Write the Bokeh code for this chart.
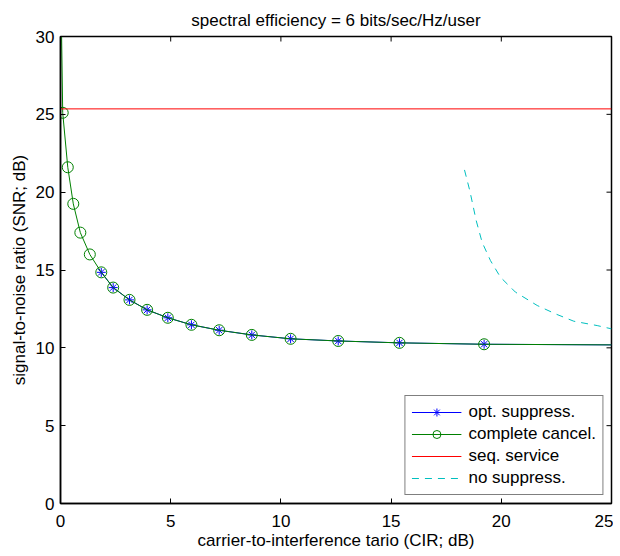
import math
from bokeh.plotting import figure
from bokeh.models import Range1d, FixedTicker, Legend, LegendItem
from bokeh.embed import file_html
from bokeh.resources import INLINE

# ---- data ----
x_ticks = [0, 5, 10, 15, 20, 25]
y_ticks = [0, 5, 10, 15, 20, 25, 30]
x_max = 25
y_max = 30

# complete cancellation (green, circles)
cc_line_x = [0.04, 0.1, 0.33, 0.58, 0.9, 1.33, 1.85, 2.39, 3.13, 3.93, 4.87, 5.94, 7.2, 8.68, 10.44, 12.6, 15.38, 19.22, 25.0]
cc_line_y = [31.0, 25.1, 21.6, 19.25, 17.4, 16.0, 14.85, 13.87, 13.08, 12.44, 11.93, 11.48, 11.13, 10.83, 10.58, 10.44, 10.32, 10.23, 10.19]
cc_mark_x = [0.1, 0.33, 0.58, 0.9, 1.33, 1.85, 2.39, 3.13, 3.93, 4.87, 5.94, 7.2, 8.68, 10.44, 12.6, 15.38, 19.22]
cc_mark_y = [25.1, 21.6, 19.25, 17.4, 16.0, 14.85, 13.87, 13.08, 12.44, 11.93, 11.48, 11.13, 10.83, 10.58, 10.44, 10.32, 10.23]

# optimum suppression (blue, stars)
os_line_x = [1.85, 2.39, 3.13, 3.93, 4.87, 5.94, 7.2, 8.68, 10.44, 12.6, 15.38, 19.22, 25.0]
os_line_y = [14.85, 13.87, 13.08, 12.44, 11.93, 11.48, 11.13, 10.83, 10.58, 10.44, 10.32, 10.23, 10.19]
os_mark_x = [1.85, 2.39, 3.13, 3.93, 4.87, 5.94, 7.2, 8.68, 10.44, 12.6, 15.38, 19.22]
os_mark_y = [14.85, 13.87, 13.08, 12.44, 11.93, 11.48, 11.13, 10.83, 10.58, 10.44, 10.32, 10.23]

# sequential service (red)
seq_x = [0, 25]
seq_y = [25.35, 25.35]

# no suppression (cyan dashed)
ns_x = [18.33, 18.57, 18.86, 19.13, 19.51, 19.96, 20.64, 21.63, 22.46, 23.29, 24.35, 25.0]
ns_y = [21.43, 20.1, 18.18, 16.78, 15.6, 14.54, 13.58, 12.72, 12.18, 11.71, 11.43, 11.22]

FONT = "Liberation Sans"
FS = "17px"

p = figure(frame_width=551, frame_height=467,
           x_range=Range1d(0, x_max), y_range=Range1d(0, y_max),
           output_backend="svg", toolbar_location=None,
           min_border_left=60, min_border_top=36, min_border_right=2, min_border_bottom=10,
           title="spectral efficiency = 6 bits/sec/Hz/user")

p.title.text_font = FONT
p.title.text_font_size = FS
p.title.text_font_style = "normal"
p.title.align = "center"
p.title.text_color = "black"
p.title.standoff = 13

p.xgrid.visible = False
p.ygrid.visible = False
p.outline_line_color = "black"
p.outline_line_width = 1.5
p.background_fill_color = "white"
p.border_fill_color = "white"

for ax, ticks in ((p.xaxis[0], x_ticks), (p.yaxis[0], y_ticks)):
    ax.ticker = FixedTicker(ticks=ticks)
    ax.major_tick_in = 5
    ax.major_tick_out = 0
    ax.minor_tick_line_color = None
    ax.axis_line_color = "black"
    ax.axis_line_width = 1.5
    ax.major_tick_line_color = "black"
    ax.major_label_text_font = FONT
    ax.major_label_text_font_size = FS
    ax.major_label_text_color = "black"
    ax.axis_label_text_font = FONT
    ax.axis_label_text_font_size = FS
    ax.axis_label_text_font_style = "normal"
    ax.axis_label_text_color = "black"

p.xaxis[0].axis_label = "carrier-to-interference tario (CIR; dB)"
p.yaxis[0].axis_label = "signal-to-noise ratio (SNR; dB)"
p.xaxis[0].major_label_standoff = 11
p.xaxis[0].axis_label_standoff = 1
p.yaxis[0].major_label_standoff = 6
p.yaxis[0].axis_label_standoff = 4

# inward tick marks on the top and right edges of the box (clipped to the frame)
p.scatter(x_ticks, [y_max] * len(x_ticks), marker="dash", size=10, angle=math.pi / 2,
          line_color="black", line_width=1)
p.scatter([x_max] * len(y_ticks), y_ticks, marker="dash", size=10,
          line_color="black", line_width=1)

BLUE = "#0000ff"
GREEN = "#008000"
RED = "#ff0000"
CYAN = "#00bfbf"

r_os_line = p.line(os_line_x, os_line_y, line_color=BLUE, line_width=1)
r_os_mark = p.scatter(os_mark_x, os_mark_y, marker="asterisk", size=9, line_color=BLUE, line_width=1)
r_cc_line = p.line(cc_line_x, cc_line_y, line_color=GREEN, line_width=1)
r_cc_mark = p.scatter(cc_mark_x, cc_mark_y, marker="circle", size=11, line_color=GREEN,
                      fill_color=None, line_width=1)
r_seq = p.line(seq_x, seq_y, line_color=RED, line_width=1)
r_ns = p.line(ns_x, ns_y, line_color=CYAN, line_width=1, line_dash="7 6")

legend = Legend(items=[
    LegendItem(label="opt. suppress.", renderers=[r_os_line, r_os_mark]),
    LegendItem(label="complete cancel.", renderers=[r_cc_line, r_cc_mark]),
    LegendItem(label="seq. service", renderers=[r_seq]),
    LegendItem(label="no suppress.", renderers=[r_ns]),
], location="bottom_right")
legend.margin = 8
legend.padding = 6
legend.spacing = 2
legend.label_height = 20
legend.glyph_height = 20
legend.glyph_width = 50
legend.label_standoff = 7
legend.label_text_font = FONT
legend.label_text_font_size = FS
legend.label_text_color = "black"
legend.border_line_color = "black"
legend.border_line_width = 1
legend.background_fill_color = "white"
legend.background_fill_alpha = 1
p.add_layout(legend, "center")

open("out.html", "w").write(file_html(p, INLINE))
